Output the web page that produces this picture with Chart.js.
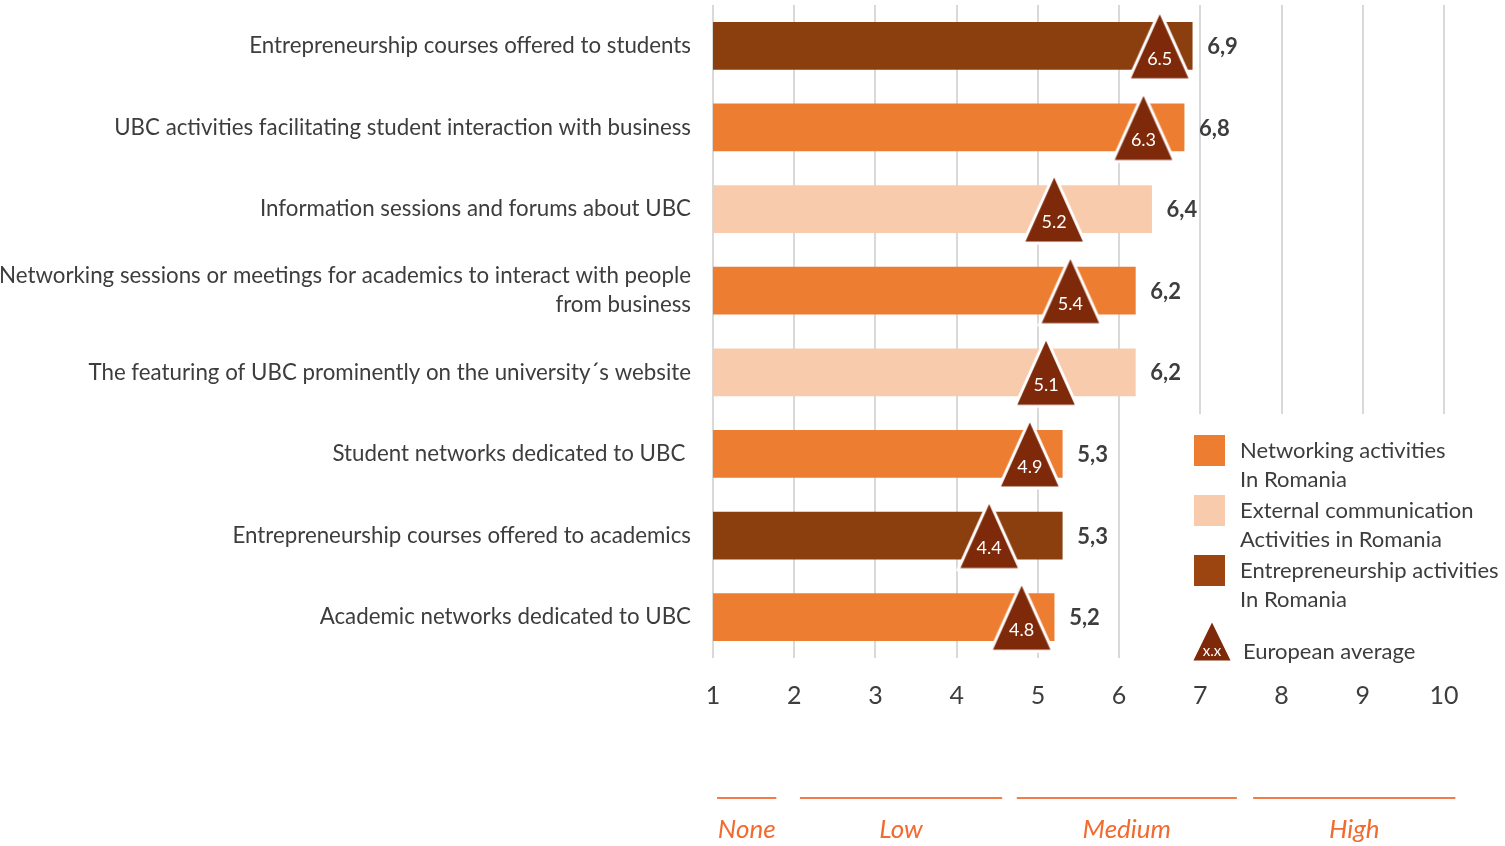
<!DOCTYPE html>
<html>
<head>
<meta charset="utf-8">
<title>UBC activities in Romania</title>
<script src="https://cdn.jsdelivr.net/npm/chart.js@4"></script>
<style>
  html, body { margin: 0; padding: 0; background: #fff; }
  #wrap { width: 1505px; height: 846px; }
</style>
</head>
<body>
<div id="wrap"><canvas id="ubcChart" width="1505" height="846"></canvas></div>
<script>
// ---------- DATA ----------
const categories = [
  "Entrepreneurship courses offered to students",
  "UBC activities facilitating student interaction with business",
  "Information sessions and forums about UBC",
  ["Networking sessions or meetings for academics to interact with people", "from business"],
  "The featuring of UBC prominently on the university\u00b4s website",
  "Student networks dedicated to UBC ",
  "Entrepreneurship courses offered to academics",
  "Academic networks dedicated to UBC"
];
const romaniaScores = [6.9, 6.8, 6.4, 6.2, 6.2, 5.3, 5.3, 5.2];
const europeanAverage = [6.5, 6.3, 5.2, 5.4, 5.1, 4.9, 4.4, 4.8];
const activityGroup = ["entre", "network", "external", "network", "external", "network", "entre", "network"];
const xTicks = [1, 2, 3, 4, 5, 6, 7, 8, 9, 10];

const groupNames = [
  ["network", "Networking activities", "In Romania"],
  ["external", "External communication", "Activities in Romania"],
  ["entre", "Entrepreneurship activities", "In Romania"]
];
const avgLegendText = "European average";

// level bands under the axis (value ranges on the 1-10 scale)
const levelNames = ["None", "Low", "Medium", "High"];
const levelFrom = [1.05, 2.07, 4.74, 7.65];
const levelTo = [1.78, 4.56, 7.45, 10.14];

// ---------- STYLE ----------
const FONT = "Lato, 'Open Sans', sans-serif";
const TEXT = "#3d3d3d";
const groupColors = { network: "#ED7D31", external: "#F8CBAD", entre: "#8B3F0E" };
const legendColors = { network: "#ED7D31", external: "#F8CBAD", entre: "#9C4511" };
const triColor = "#7E2909";

// triangle marker used for the European average
function makeTriangle(w, h) {
  const c = document.createElement("canvas");
  c.width = w; c.height = h;
  const g = c.getContext("2d");
  g.beginPath();
  g.moveTo(w / 2, 3);
  g.lineTo(w - 2, h - 4);
  g.lineTo(2, h - 4);
  g.closePath();
  g.fillStyle = triColor;
  g.fill();
  g.lineWidth = 3;
  g.strokeStyle = "#fff";
  g.lineJoin = "miter";
  g.stroke();
  return c;
}
const triMarker = makeTriangle(66, 76);

// ---------- PLUGINS ----------
const valueLabels = {
  id: "valueLabels",
  afterDatasetsDraw(chart) {
    const ctx = chart.ctx;
    const bars = chart.getDatasetMeta(0).data;
    const tris = chart.getDatasetMeta(1).data;
    ctx.save();
    ctx.textBaseline = "middle";
    ctx.font = "bold 22px " + FONT;
    ctx.fillStyle = TEXT;
    ctx.textAlign = "left";
    bars.forEach((b, i) => {
      ctx.fillText(romaniaScores[i].toFixed(1).replace(".", ","), b.x + 15, b.y + 1);
    });
    ctx.font = "18px " + FONT;
    ctx.fillStyle = "#fff";
    ctx.textAlign = "center";
    tris.forEach((p, i) => {
      ctx.fillText(europeanAverage[i].toFixed(1), p.x, p.y + 13);
    });
    ctx.restore();
  }
};

const sideLegend = {
  id: "sideLegend",
  afterDraw(chart) {
    const ctx = chart.ctx;
    ctx.save();
    // blank panel over the grid
    ctx.fillStyle = "#fff";
    ctx.fillRect(1180, 414, 325, 255);
    ctx.textBaseline = "middle";
    ctx.textAlign = "left";
    ctx.font = "22px " + FONT;
    groupNames.forEach((g, i) => {
      const top = 435 + i * 60;
      ctx.fillStyle = legendColors[g[0]];
      ctx.fillRect(1194, top, 31, 31);
      ctx.fillStyle = TEXT;
      ctx.fillText(g[1], 1240, top + 16);
      ctx.fillText(g[2], 1240, top + 45);
    });
    ctx.drawImage(makeTriangle(46, 50), 1189, 616);
    ctx.fillStyle = "#fff";
    ctx.font = "15px " + FONT;
    ctx.textAlign = "center";
    ctx.fillText("x.x", 1212, 651);
    ctx.fillStyle = TEXT;
    ctx.font = "22px " + FONT;
    ctx.textAlign = "left";
    ctx.fillText(avgLegendText, 1243, 652);
    ctx.restore();
  }
};

const levelBands = {
  id: "levelBands",
  afterDraw(chart) {
    const ctx = chart.ctx;
    const x = chart.scales.x;
    ctx.save();
    ctx.strokeStyle = "#F47C4B";
    ctx.lineWidth = 2;
    ctx.fillStyle = "#F26A2E";
    ctx.font = "italic 26px " + FONT;
    ctx.textAlign = "center";
    ctx.textBaseline = "middle";
    levelNames.forEach((name, i) => {
      const a = x.getPixelForValue(levelFrom[i]);
      const b = x.getPixelForValue(levelTo[i]);
      ctx.beginPath();
      ctx.moveTo(a, 798);
      ctx.lineTo(b, 798);
      ctx.stroke();
      ctx.fillText(name, (a + b) / 2, 830);
    });
    ctx.restore();
  }
};

// ---------- CHART ----------
new Chart(document.getElementById("ubcChart"), {
  type: "bar",
  data: {
    labels: categories,
    datasets: [
      {
        label: "Romania",
        data: romaniaScores,
        backgroundColor: activityGroup.map(g => groupColors[g]),
        barThickness: 47,
        order: 1
      },
      {
        type: "line",
        label: "European average",
        indexAxis: "y",
        data: europeanAverage,
        showLine: false,
        pointStyle: triMarker,
        order: 0
      }
    ]
  },
  options: {
    indexAxis: "y",
    responsive: false,
    animation: false,
    layout: { padding: { top: 5, right: 61, bottom: 112, left: 0 } },
    plugins: { legend: { display: false }, tooltip: { enabled: false } },
    scales: {
      x: {
        min: 1,
        max: 10,
        afterBuildTicks: s => { s.ticks = xTicks.map(v => ({ value: v })); },
        afterFit: s => { s.paddingLeft = 0; s.paddingRight = 0; },
        grid: { color: "#D9D9D9", lineWidth: 2, drawTicks: false },
        border: { display: false },
        ticks: { color: TEXT, font: { family: FONT, size: 25 }, padding: 23 }
      },
      y: {
        afterFit: s => { s.width = 713; s.paddingTop = 0; s.paddingBottom = 0; },
        grid: { display: false, drawTicks: false },
        border: { display: false },
        ticks: { color: TEXT, font: { family: FONT, size: 22.3, lineHeight: 1.3 }, padding: 22 }
      }
    }
  },
  plugins: [valueLabels, sideLegend, levelBands]
});
</script>
</body>
</html>
